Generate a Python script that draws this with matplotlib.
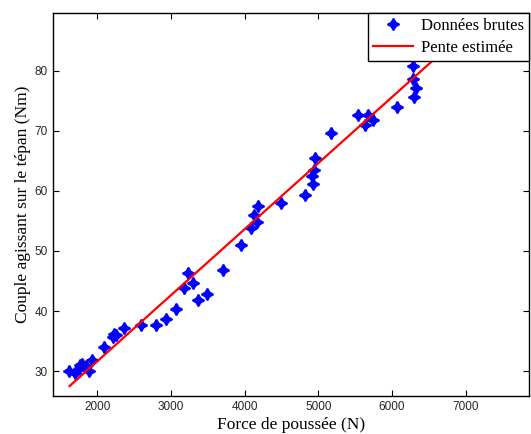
import numpy as np
import matplotlib
matplotlib.use("Agg")
import matplotlib.pyplot as plt

# raw measurements
force = [1611, 1700, 1728, 1760, 1791, 1851, 1895, 1927, 2090, 2212, 2228, 2250,
         2362, 2598, 2792, 2928, 3070, 3177, 3236, 3299, 3372, 3490, 3712, 3953,
         4092, 4124, 4174, 4182, 4500, 4826, 4921, 4930, 4939, 4957, 5170, 5541,
         5632, 5677, 5736, 6062, 6288, 6288, 6302, 6325]
couple = [30.0, 29.7, 30.1, 31.0, 31.2, 30.8, 30.0, 31.9, 34.0, 35.7, 36.2, 36.0,
          37.1, 37.6, 37.7, 38.7, 40.4, 43.8, 46.3, 44.6, 41.8, 42.8, 46.8, 51.0,
          53.8, 55.9, 54.8, 57.4, 57.9, 59.3, 62.4, 61.1, 63.5, 65.5, 69.6, 72.7,
          70.9, 72.6, 71.8, 73.9, 78.7, 80.8, 75.6, 77.2]

# estimated slope line
fit_x = [1625, 6700]
fit_y = [27.5, 83.3]

fig = plt.figure(figsize=(5.31, 4.34), dpi=100)
ax = fig.add_axes([0.0998, 0.0882, 0.8965, 0.8818])

ax.plot(force, couple, linestyle='none', marker=(4, 1, 0), markersize=8.5,
        markeredgewidth=1.3, color='#0000ff', label='Données brutes')
ax.plot(fit_x, fit_y, color='#ff0000', linewidth=1.6, label='Pente estimée')

ax.set_xlim(1400, 7860)
ax.set_ylim(25.9, 89.6)
ax.set_xticks([2000, 3000, 4000, 5000, 6000, 7000])
ax.set_yticks([30, 40, 50, 60, 70, 80])
ax.tick_params(direction='in', top=True, right=True, length=4, width=0.8,
               labelsize=8.5, pad=4)
for lbl in ax.get_xticklabels() + ax.get_yticklabels():
    lbl.set_family('Liberation Sans')
    lbl.set_color('#262626')
for s in ax.spines.values():
    s.set_linewidth(1.0)

ax.set_xlabel('Force de poussée (N)', family='Liberation Serif', fontsize=12.5, labelpad=3)
ax.set_ylabel('Couple agissant sur le tépan (Nm)', family='Liberation Serif', fontsize=12.5, labelpad=2)

leg = ax.legend(loc='upper right', borderaxespad=0, numpoints=1, fancybox=False,
                framealpha=1, edgecolor='black', handlelength=2.4,
                prop={'family': 'Liberation Serif', 'size': 12},
                borderpad=0.3, labelspacing=0.35, handletextpad=0.5)
leg.get_frame().set_linewidth(1.0)

fig.savefig('out.png', dpi=100)
